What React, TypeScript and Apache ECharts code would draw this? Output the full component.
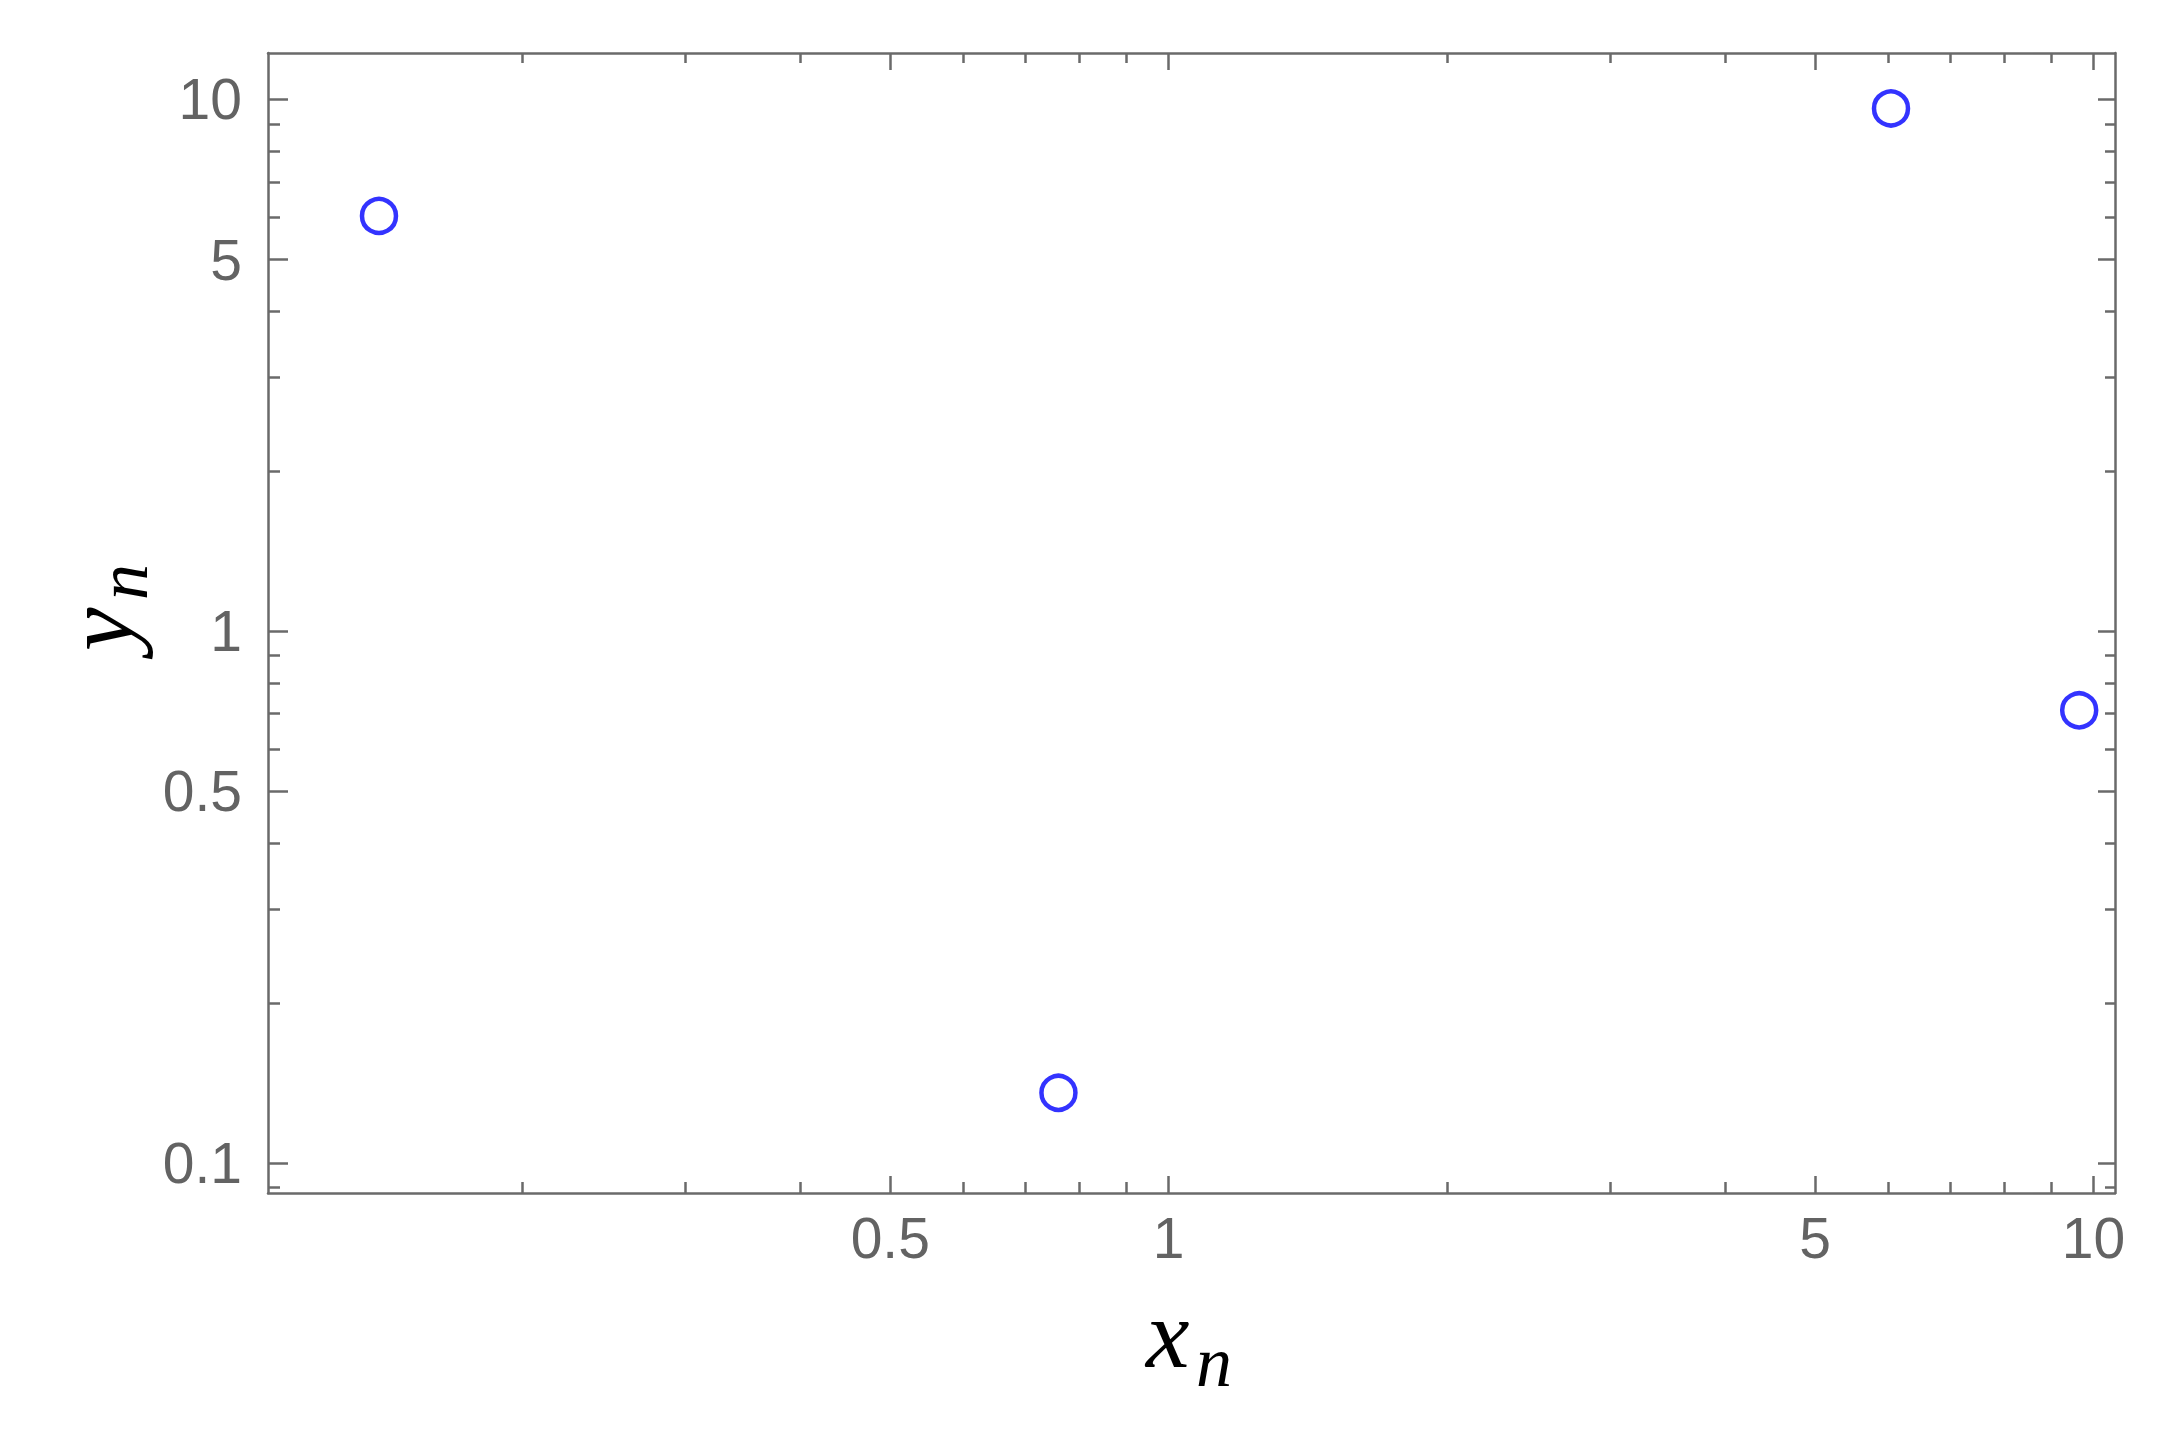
import React, { useEffect, useRef } from "react";
import * as echarts from "echarts";

// Data (log-log scatter)
const xValues = [0.14, 0.76, 6.04, 9.65];
const yValues = [6.04, 0.1355, 9.62, 0.71];

// Tick values
const xMajorTicks = [0.5, 1, 5, 10];
const xMinorTicks = [0.2, 0.3, 0.4, 0.6, 0.7, 0.8, 0.9, 2, 3, 4, 6, 7, 8, 9];
const yMajorTicks = [0.1, 0.5, 1, 5, 10];
const yMinorTicks = [0.09, 0.2, 0.3, 0.4, 0.6, 0.7, 0.8, 0.9, 2, 3, 4, 6, 7, 8, 9];

// Axis ranges
const xRange = [0.1062, 10.55];
const yRange = [0.0878, 12.23];

const FRAME = "#6a6a6a";
const LABEL = "#636363";

function fmt(v: number): string {
  return String(Number(Number(v).toPrecision(4)));
}

function makeAxis(
  kind: "x" | "y",
  position: string,
  ticks: number[],
  len: number,
  showLine: boolean,
  showLabel: boolean
): any {
  const range = kind === "x" ? xRange : yRange;
  return {
    type: "log",
    logBase: 10,
    min: range[0],
    max: range[1],
    position,
    axisLine: { show: showLine, onZero: false, lineStyle: { color: FRAME, width: 2.5 } },
    axisTick: {
      show: true,
      inside: true,
      length: len,
      customValues: ticks,
      lineStyle: { color: FRAME, width: 2.5 },
    },
    axisLabel: showLabel
      ? {
          show: true,
          customValues: ticks,
          formatter: (v: number) => fmt(v),
          color: LABEL,
          fontSize: 57,
          fontFamily: "Liberation Sans, Arial, sans-serif",
          margin: kind === "x" ? 16 : 26,
        }
      : { show: false },
    splitLine: { show: false },
    minorTick: { show: false },
    minorSplitLine: { show: false },
  };
}

export default function App() {
  const ref = useRef<HTMLDivElement>(null);

  useEffect(() => {
    document.body.style.margin = "0";
    if (!ref.current) return;
    const chart = echarts.init(ref.current, undefined, { renderer: "svg" });
    const data = xValues.map((x, i) => [x, yValues[i]]);
    const serif = "Liberation Serif, Times New Roman, serif";
    chart.setOption({
      animation: false,
      backgroundColor: "#ffffff",
      grid: { left: 268, top: 53, width: 1847, height: 1140, containLabel: false },
      xAxis: [
        makeAxis("x", "bottom", xMajorTicks, 17, true, true),
        makeAxis("x", "bottom", xMinorTicks, 11, false, false),
        makeAxis("x", "top", xMajorTicks, 17, true, false),
        makeAxis("x", "top", xMinorTicks, 10, false, false),
      ],
      yAxis: [
        makeAxis("y", "left", yMajorTicks, 20, true, true),
        makeAxis("y", "left", yMinorTicks, 12, false, false),
        makeAxis("y", "right", yMajorTicks, 17, true, false),
        makeAxis("y", "right", yMinorTicks, 10, false, false),
      ],
      series: [
        {
          type: "scatter",
          xAxisIndex: 0,
          yAxisIndex: 0,
          data,
          symbol: "circle",
          symbolSize: 34,
          itemStyle: { color: "#ffffff", borderColor: "#0000ff", borderWidth: 4.5 },
          emphasis: { disabled: true },
        },
      ],
      graphic: [
        {
          type: "group",
          x: 0,
          y: 0,
          children: [
            {
              type: "text",
              x: 1146,
              y: 1334,
              style: {
                text: "x",
                font: `italic 98px ${serif}`,
                fill: "#000",
                textAlign: "left",
                textVerticalAlign: "middle",
              },
            },
            {
              type: "text",
              x: 1196,
              y: 1362,
              style: {
                text: "n",
                font: `italic 72px ${serif}`,
                fill: "#000",
                textAlign: "left",
                textVerticalAlign: "middle",
              },
            },
          ],
        },
        {
          type: "group",
          x: 131,
          y: 655,
          rotation: Math.PI / 2,
          children: [
            {
              type: "text",
              x: 4,
              y: -32,
              style: {
                text: "y",
                font: `italic 98px ${serif}`,
                fill: "#000",
                textAlign: "left",
                textVerticalAlign: "middle",
              },
            },
            {
              type: "text",
              x: 55,
              y: -8,
              style: {
                text: "n",
                font: `italic 72px ${serif}`,
                fill: "#000",
                textAlign: "left",
                textVerticalAlign: "middle",
              },
            },
          ],
        },
      ],
    });
    return () => chart.dispose();
  }, []);

  return <div ref={ref} style={{ width: 2165, height: 1431 }} />;
}
